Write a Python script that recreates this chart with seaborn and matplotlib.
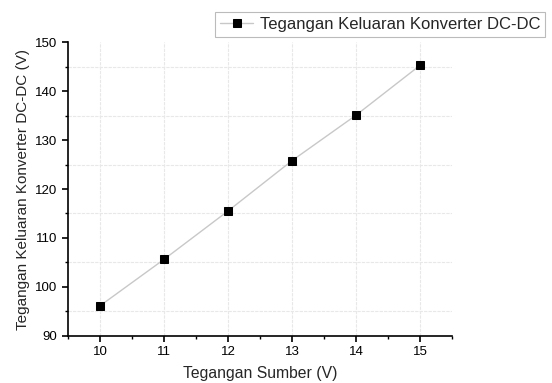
import matplotlib
matplotlib.use("Agg")
import matplotlib.pyplot as plt
import seaborn as sns
import pandas as pd
from matplotlib.ticker import MultipleLocator

sumber = [10, 11, 12, 13, 14, 15]
keluaran = [96.1, 105.6, 115.5, 125.8, 135.1, 145.3]
series_name = "Tegangan Keluaran Konverter DC-DC"

sns.set_style("white")
plt.rcParams['font.family'] = ['Liberation Sans', 'DejaVu Sans']

df = pd.DataFrame({"x": sumber, "y": keluaran})

fig = plt.figure(figsize=(5.52, 3.83), dpi=100)
ax = fig.add_axes([0.123, 0.1235, 0.696, 0.766])

sns.lineplot(data=df, x="x", y="y", ax=ax, color="#c8c8c8", linewidth=1.0,
             marker="s", markersize=5.5, markerfacecolor="black",
             markeredgecolor="black", label=series_name, legend=False)

ax.set_xlim(9.5, 15.5)
ax.set_ylim(90, 150)
ax.xaxis.set_major_locator(MultipleLocator(1))
ax.xaxis.set_minor_locator(MultipleLocator(0.5))
ax.yaxis.set_major_locator(MultipleLocator(10))
ax.yaxis.set_minor_locator(MultipleLocator(5))

# grid: vertical at major x, horizontal at minor y
ax.grid(False)
for xv in sumber:
    ax.axvline(xv, color="#e8e8e8", linewidth=0.8, linestyle=(0, (3, 1)), zorder=0)
for yv in [95, 105, 115, 125, 135, 145]:
    ax.axhline(yv, color="#e8e8e8", linewidth=0.8, linestyle=(0, (3, 1)), zorder=0)

for s in ["top", "right"]:
    ax.spines[s].set_visible(False)
for s in ["left", "bottom"]:
    ax.spines[s].set_color("black")
    ax.spines[s].set_linewidth(1.2)

ax.tick_params(which="major", direction="out", length=4, width=1.2, colors="black",
               labelsize=9.5, left=True, bottom=True)
ax.tick_params(which="minor", direction="out", length=2.5, width=1.0, colors="black",
               left=True, bottom=True)

ax.set_xlabel("Tegangan Sumber (V)", fontsize=11.3, labelpad=6)
ax.set_ylabel("Tegangan Keluaran Konverter DC-DC (V)", fontsize=11, labelpad=4)

handles, labels = ax.get_legend_handles_labels()
leg = fig.legend(handles, labels, loc="upper right", bbox_to_anchor=(0.988, 0.968),
                 borderaxespad=0, fontsize=12, frameon=True, fancybox=False,
                 edgecolor="#aaaaaa", handlelength=2.0, borderpad=0.3,
                 handletextpad=0.4)
leg.get_frame().set_linewidth(0.8)

fig.savefig("out.png", dpi=100)
